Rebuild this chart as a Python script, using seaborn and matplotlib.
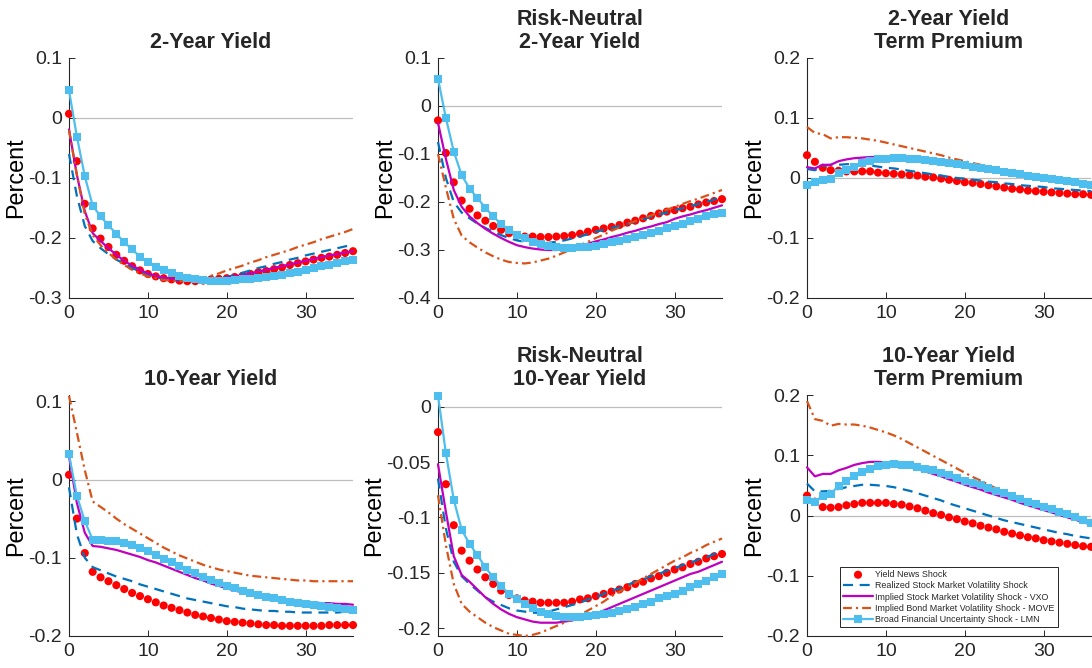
import matplotlib
matplotlib.use("Agg")
import matplotlib.pyplot as plt
import seaborn as sns
import pandas as pd
from matplotlib.ticker import FuncFormatter

horizon = list(range(37))

series_labels = [
    "Yield News Shock",
    "Realized Stock Market Volatility Shock",
    "Implied Stock Market Volatility Shock - VXO",
    "Implied Bond Market Volatility Shock - MOVE",
    "Broad Financial Uncertainty Shock - LMN",
]

panel_titles = ["2-Year Yield", "Risk-Neutral\n2-Year Yield", "2-Year Yield\nTerm Premium",
                "10-Year Yield", "Risk-Neutral\n10-Year Yield", "10-Year Yield\nTerm Premium"]

# ---- 2-Year Yield ----
y2_news = [0.007, -0.072, -0.143, -0.184, -0.201, -0.215, -0.228, -0.238, -0.247, -0.254, -0.260, -0.264, -0.267, -0.269, -0.271, -0.272, -0.272, -0.271, -0.269, -0.268, -0.267, -0.265, -0.263, -0.260, -0.257, -0.255, -0.252, -0.249, -0.245, -0.242, -0.239, -0.236, -0.233, -0.231, -0.228, -0.225, -0.222]
y2_realized = [-0.060, -0.130, -0.180, -0.205, -0.217, -0.227, -0.236, -0.243, -0.250, -0.256, -0.261, -0.265, -0.268, -0.270, -0.271, -0.271, -0.271, -0.270, -0.269, -0.267, -0.265, -0.262, -0.258, -0.254, -0.250, -0.247, -0.243, -0.240, -0.236, -0.233, -0.229, -0.226, -0.223, -0.220, -0.217, -0.214, -0.211]
y2_vxo = [-0.019, -0.095, -0.155, -0.192, -0.205, -0.217, -0.228, -0.238, -0.246, -0.253, -0.259, -0.263, -0.266, -0.268, -0.270, -0.271, -0.271, -0.270, -0.269, -0.268, -0.266, -0.264, -0.262, -0.259, -0.256, -0.253, -0.250, -0.247, -0.244, -0.241, -0.238, -0.235, -0.232, -0.229, -0.227, -0.224, -0.222]
y2_move = [-0.020, -0.095, -0.160, -0.195, -0.212, -0.225, -0.236, -0.245, -0.253, -0.259, -0.264, -0.267, -0.270, -0.271, -0.272, -0.271, -0.269, -0.267, -0.263, -0.259, -0.254, -0.250, -0.246, -0.241, -0.237, -0.232, -0.228, -0.224, -0.220, -0.215, -0.211, -0.207, -0.202, -0.198, -0.194, -0.190, -0.185]
y2_lmn = [0.046, -0.031, -0.097, -0.146, -0.164, -0.179, -0.193, -0.207, -0.219, -0.231, -0.240, -0.248, -0.254, -0.259, -0.263, -0.266, -0.268, -0.270, -0.271, -0.271, -0.271, -0.270, -0.269, -0.268, -0.267, -0.265, -0.263, -0.261, -0.258, -0.256, -0.253, -0.250, -0.247, -0.245, -0.242, -0.239, -0.236]

# ---- Risk-Neutral 2-Year Yield ----
rn2_news = [-0.030, -0.098, -0.159, -0.197, -0.214, -0.228, -0.239, -0.250, -0.258, -0.265, -0.270, -0.272, -0.272, -0.273, -0.273, -0.272, -0.271, -0.269, -0.266, -0.262, -0.258, -0.255, -0.252, -0.248, -0.243, -0.239, -0.234, -0.229, -0.224, -0.220, -0.217, -0.213, -0.210, -0.205, -0.201, -0.198, -0.194]
rn2_realized = [-0.075, -0.150, -0.200, -0.222, -0.234, -0.245, -0.254, -0.262, -0.269, -0.275, -0.280, -0.283, -0.285, -0.286, -0.285, -0.283, -0.280, -0.276, -0.272, -0.267, -0.262, -0.258, -0.254, -0.250, -0.246, -0.241, -0.236, -0.231, -0.226, -0.222, -0.217, -0.213, -0.209, -0.204, -0.200, -0.195, -0.190]
rn2_vxo = [-0.035, -0.110, -0.175, -0.210, -0.230, -0.244, -0.256, -0.266, -0.275, -0.283, -0.290, -0.294, -0.297, -0.299, -0.300, -0.300, -0.298, -0.295, -0.291, -0.287, -0.282, -0.278, -0.273, -0.269, -0.264, -0.260, -0.255, -0.251, -0.246, -0.242, -0.235, -0.230, -0.226, -0.221, -0.217, -0.212, -0.207]
rn2_move = [-0.100, -0.170, -0.235, -0.270, -0.284, -0.295, -0.305, -0.313, -0.320, -0.325, -0.327, -0.328, -0.326, -0.322, -0.318, -0.312, -0.305, -0.298, -0.290, -0.283, -0.275, -0.268, -0.260, -0.253, -0.246, -0.240, -0.234, -0.228, -0.222, -0.216, -0.210, -0.204, -0.198, -0.193, -0.187, -0.181, -0.175]
rn2_lmn = [0.057, -0.025, -0.095, -0.144, -0.172, -0.192, -0.212, -0.230, -0.246, -0.258, -0.268, -0.276, -0.283, -0.288, -0.292, -0.294, -0.295, -0.295, -0.294, -0.293, -0.291, -0.288, -0.284, -0.281, -0.277, -0.273, -0.269, -0.265, -0.260, -0.255, -0.250, -0.245, -0.239, -0.235, -0.230, -0.226, -0.222]

# ---- 2-Year Yield Term Premium ----
tp2_news = [0.038, 0.027, 0.017, 0.013, 0.012, 0.011, 0.011, 0.011, 0.011, 0.009, 0.008, 0.007, 0.006, 0.005, 0.004, 0.002, 0.001, -0.001, -0.003, -0.005, -0.007, -0.008, -0.010, -0.012, -0.014, -0.016, -0.018, -0.019, -0.021, -0.022, -0.023, -0.024, -0.025, -0.026, -0.027, -0.027, -0.028]
tp2_realized = [0.015, 0.013, 0.020, 0.022, 0.022, 0.023, 0.023, 0.022, 0.021, 0.019, 0.017, 0.016, 0.014, 0.012, 0.010, 0.008, 0.006, 0.004, 0.002, 0.000, -0.001, -0.003, -0.004, -0.006, -0.007, -0.009, -0.010, -0.012, -0.013, -0.014, -0.015, -0.017, -0.018, -0.019, -0.020, -0.021, -0.022]
tp2_vxo = [0.018, 0.016, 0.022, 0.022, 0.028, 0.031, 0.033, 0.034, 0.035, 0.035, 0.034, 0.034, 0.033, 0.032, 0.031, 0.029, 0.028, 0.026, 0.024, 0.022, 0.020, 0.018, 0.016, 0.014, 0.012, 0.010, 0.008, 0.006, 0.004, 0.002, 0.000, -0.002, -0.003, -0.005, -0.007, -0.009, -0.011]
tp2_move = [0.085, 0.075, 0.073, 0.066, 0.068, 0.068, 0.067, 0.066, 0.064, 0.062, 0.059, 0.056, 0.053, 0.050, 0.047, 0.044, 0.041, 0.038, 0.034, 0.031, 0.028, 0.025, 0.022, 0.019, 0.016, 0.013, 0.011, 0.008, 0.006, 0.004, 0.002, 0.000, -0.002, -0.004, -0.006, -0.008, -0.010]
tp2_lmn = [-0.012, -0.007, -0.003, -0.001, 0.008, 0.014, 0.019, 0.025, 0.028, 0.031, 0.032, 0.033, 0.033, 0.032, 0.031, 0.030, 0.028, 0.027, 0.025, 0.023, 0.021, 0.019, 0.017, 0.015, 0.013, 0.010, 0.008, 0.006, 0.004, 0.002, 0.000, -0.002, -0.003, -0.005, -0.007, -0.010, -0.012]

# ---- 10-Year Yield ----
y10_news = [0.006, -0.050, -0.094, -0.118, -0.125, -0.130, -0.135, -0.140, -0.145, -0.149, -0.153, -0.157, -0.161, -0.164, -0.167, -0.170, -0.173, -0.175, -0.177, -0.179, -0.181, -0.182, -0.183, -0.184, -0.185, -0.186, -0.186, -0.187, -0.187, -0.187, -0.187, -0.187, -0.187, -0.186, -0.186, -0.186, -0.186]
y10_realized = [-0.010, -0.070, -0.100, -0.112, -0.116, -0.120, -0.124, -0.127, -0.130, -0.134, -0.137, -0.140, -0.143, -0.146, -0.149, -0.152, -0.154, -0.156, -0.158, -0.160, -0.162, -0.163, -0.165, -0.166, -0.167, -0.168, -0.168, -0.169, -0.169, -0.170, -0.170, -0.170, -0.170, -0.170, -0.170, -0.169, -0.168]
y10_vxo = [0.030, -0.030, -0.068, -0.085, -0.086, -0.088, -0.090, -0.093, -0.096, -0.099, -0.103, -0.106, -0.110, -0.114, -0.118, -0.122, -0.126, -0.129, -0.133, -0.136, -0.139, -0.142, -0.144, -0.146, -0.148, -0.150, -0.152, -0.153, -0.155, -0.156, -0.157, -0.157, -0.158, -0.158, -0.159, -0.159, -0.160]
y10_move = [0.107, 0.060, 0.012, -0.028, -0.035, -0.042, -0.050, -0.057, -0.063, -0.069, -0.075, -0.081, -0.087, -0.092, -0.097, -0.101, -0.105, -0.109, -0.112, -0.115, -0.117, -0.119, -0.121, -0.123, -0.124, -0.125, -0.126, -0.127, -0.128, -0.129, -0.129, -0.130, -0.130, -0.130, -0.130, -0.130, -0.130]
y10_lmn = [0.032, -0.021, -0.053, -0.077, -0.077, -0.078, -0.079, -0.081, -0.084, -0.088, -0.092, -0.096, -0.101, -0.106, -0.111, -0.116, -0.120, -0.124, -0.129, -0.132, -0.136, -0.139, -0.142, -0.145, -0.147, -0.150, -0.152, -0.154, -0.156, -0.158, -0.159, -0.161, -0.162, -0.163, -0.164, -0.166, -0.167]

# ---- Risk-Neutral 10-Year Yield ----
rn10_news = [-0.023, -0.070, -0.107, -0.130, -0.139, -0.147, -0.154, -0.160, -0.166, -0.170, -0.173, -0.175, -0.176, -0.177, -0.177, -0.177, -0.177, -0.176, -0.174, -0.173, -0.171, -0.169, -0.167, -0.165, -0.163, -0.160, -0.158, -0.155, -0.153, -0.150, -0.147, -0.145, -0.142, -0.140, -0.137, -0.135, -0.133]
rn10_realized = [-0.065, -0.110, -0.140, -0.153, -0.160, -0.166, -0.172, -0.176, -0.179, -0.182, -0.184, -0.185, -0.186, -0.186, -0.185, -0.183, -0.181, -0.179, -0.177, -0.174, -0.172, -0.169, -0.166, -0.164, -0.161, -0.158, -0.156, -0.153, -0.151, -0.148, -0.146, -0.143, -0.141, -0.138, -0.136, -0.133, -0.131]
rn10_vxo = [-0.052, -0.095, -0.135, -0.152, -0.158, -0.165, -0.172, -0.178, -0.183, -0.187, -0.190, -0.192, -0.194, -0.195, -0.195, -0.195, -0.194, -0.193, -0.191, -0.189, -0.187, -0.184, -0.181, -0.178, -0.175, -0.172, -0.169, -0.166, -0.163, -0.160, -0.157, -0.154, -0.151, -0.149, -0.146, -0.143, -0.140]
rn10_move = [-0.080, -0.125, -0.160, -0.178, -0.185, -0.190, -0.195, -0.199, -0.202, -0.205, -0.206, -0.207, -0.206, -0.204, -0.201, -0.198, -0.195, -0.192, -0.188, -0.184, -0.180, -0.176, -0.171, -0.167, -0.163, -0.159, -0.155, -0.151, -0.147, -0.143, -0.139, -0.136, -0.132, -0.129, -0.125, -0.122, -0.119]
rn10_lmn = [0.010, -0.042, -0.084, -0.111, -0.124, -0.134, -0.145, -0.154, -0.162, -0.169, -0.174, -0.178, -0.182, -0.185, -0.187, -0.189, -0.190, -0.190, -0.190, -0.189, -0.188, -0.187, -0.186, -0.184, -0.183, -0.181, -0.178, -0.176, -0.173, -0.171, -0.169, -0.166, -0.163, -0.160, -0.157, -0.154, -0.151]

# ---- 10-Year Yield Term Premium ----
tp10_news = [0.033, 0.023, 0.014, 0.013, 0.014, 0.017, 0.019, 0.021, 0.021, 0.021, 0.021, 0.019, 0.018, 0.015, 0.012, 0.008, 0.004, 0.001, -0.003, -0.006, -0.010, -0.013, -0.017, -0.020, -0.023, -0.027, -0.030, -0.033, -0.036, -0.038, -0.041, -0.043, -0.045, -0.047, -0.049, -0.051, -0.052]
tp10_realized = [0.053, 0.040, 0.040, 0.041, 0.044, 0.047, 0.049, 0.051, 0.051, 0.050, 0.049, 0.047, 0.044, 0.041, 0.037, 0.033, 0.029, 0.025, 0.020, 0.016, 0.012, 0.008, 0.004, 0.000, -0.004, -0.008, -0.011, -0.014, -0.017, -0.020, -0.023, -0.026, -0.029, -0.031, -0.034, -0.036, -0.038]
tp10_vxo = [0.080, 0.065, 0.069, 0.069, 0.075, 0.079, 0.084, 0.087, 0.089, 0.089, 0.088, 0.086, 0.083, 0.080, 0.077, 0.073, 0.069, 0.065, 0.060, 0.056, 0.051, 0.047, 0.043, 0.038, 0.034, 0.030, 0.026, 0.021, 0.017, 0.013, 0.009, 0.005, 0.001, -0.003, -0.007, -0.011, -0.015]
tp10_move = [0.190, 0.160, 0.157, 0.149, 0.152, 0.151, 0.151, 0.149, 0.146, 0.142, 0.138, 0.133, 0.127, 0.120, 0.113, 0.106, 0.099, 0.092, 0.085, 0.078, 0.071, 0.064, 0.058, 0.051, 0.045, 0.039, 0.034, 0.028, 0.023, 0.018, 0.013, 0.009, 0.005, 0.001, -0.003, -0.007, -0.012]
tp10_lmn = [0.026, 0.023, 0.033, 0.036, 0.049, 0.057, 0.065, 0.072, 0.077, 0.082, 0.084, 0.085, 0.084, 0.083, 0.081, 0.078, 0.075, 0.071, 0.067, 0.063, 0.058, 0.054, 0.050, 0.046, 0.041, 0.037, 0.032, 0.028, 0.023, 0.019, 0.014, 0.010, 0.006, 0.002, -0.003, -0.008, -0.012]

panel_data = [
    [y2_news, y2_realized, y2_vxo, y2_move, y2_lmn],
    [rn2_news, rn2_realized, rn2_vxo, rn2_move, rn2_lmn],
    [tp2_news, tp2_realized, tp2_vxo, tp2_move, tp2_lmn],
    [y10_news, y10_realized, y10_vxo, y10_move, y10_lmn],
    [rn10_news, rn10_realized, rn10_vxo, rn10_move, rn10_lmn],
    [tp10_news, tp10_realized, tp10_vxo, tp10_move, tp10_lmn],
]

y_limits = [(-0.3, 0.1), (-0.4, 0.1), (-0.2, 0.2), (-0.2, 0.108), (-0.207, 0.0105), (-0.2, 0.2)]
y_ticks = [[-0.3, -0.2, -0.1, 0, 0.1], [-0.4, -0.3, -0.2, -0.1, 0, 0.1], [-0.2, -0.1, 0, 0.1, 0.2],
           [-0.2, -0.1, 0, 0.1], [-0.2, -0.15, -0.1, -0.05, 0], [-0.2, -0.1, 0, 0.1, 0.2]]
x_ticks = [0, 10, 20, 30]

# ---- style ----
sns.set_style("ticks")
plt.rcParams["font.family"] = ["Liberation Sans", "DejaVu Sans"]
plt.rcParams["axes.unicode_minus"] = False

c_red = "#FF0000"
c_blue = "#0072BD"
c_purple = "#BF00BF"
c_orange = "#D95319"
c_light = "#4DBEEE"
axis_col = "#262626"

fig = plt.figure(figsize=(10.92, 6.68), dpi=100)
W, H = 1092.0, 668.0
lefts = [69, 438, 807]
width = 284
rows = [(58, 298), (395, 636)]

fmt = FuncFormatter(lambda v, p: f"{v:g}")

for i in range(6):
    r, c = divmod(i, 3)
    top, bot = rows[r]
    ax = fig.add_axes([lefts[c] / W, 1 - bot / H, width / W, (bot - top) / H])
    news, realized, vxo, move, lmn = panel_data[i]
    show = (i == 5)
    ax.axhline(0, color="#BDBDBD", lw=0.9, zorder=0)
    sns.scatterplot(x=horizon, y=news, ax=ax, color=c_red, s=34, edgecolor="none", linewidth=0,
                    label=series_labels[0] if show else None, clip_on=False, zorder=3)
    sns.lineplot(x=horizon, y=realized, ax=ax, color=c_blue, lw=1.6, linestyle=(0, (4.5, 3)),
                 label=series_labels[1] if show else None, clip_on=False, zorder=3)
    sns.lineplot(x=horizon, y=vxo, ax=ax, color=c_purple, lw=1.6,
                 label=series_labels[2] if show else None, clip_on=False, zorder=3)
    sns.lineplot(x=horizon, y=move, ax=ax, color=c_orange, lw=1.6, linestyle=(0, (4, 1.8, 1, 1.8)),
                 label=series_labels[3] if show else None, clip_on=False, zorder=3)
    sns.lineplot(x=horizon, y=lmn, ax=ax, color=c_light, lw=1.6, marker="s", markersize=5.2,
                 markeredgewidth=0, label=series_labels[4] if show else None, clip_on=False, zorder=4)

    ax.set_xlim(0, 36)
    ax.set_ylim(*y_limits[i])
    ax.set_xticks(x_ticks)
    ax.set_yticks(y_ticks[i])
    ax.yaxis.set_major_formatter(fmt)
    ax.xaxis.set_major_formatter(fmt)
    sns.despine(ax=ax)
    for s in ("left", "bottom"):
        ax.spines[s].set_color(axis_col)
        ax.spines[s].set_linewidth(0.8)
    ax.tick_params(direction="in", length=4, width=0.7, labelsize=14, colors=axis_col, pad=5)
    ax.set_title(panel_titles[i], fontsize=15.5, fontweight="bold", pad=7, linespacing=1.15)
    ax.set_ylabel("Percent", fontsize=16.8, color="black", labelpad=1)
    ax.set_xlabel("")

    if show:
        leg = ax.legend(loc="lower left", bbox_to_anchor=(0.117, 0.037), borderaxespad=0,
                        fontsize=6.4, frameon=True, fancybox=False, edgecolor=axis_col,
                        framealpha=1, borderpad=0.35, labelspacing=0.25, handlelength=3.3,
                        handletextpad=0.3, scatterpoints=1)
        leg.get_frame().set_linewidth(0.7)
    else:
        lg = ax.get_legend()
        if lg is not None:
            lg.remove()

fig.savefig("out.png", dpi=100)
